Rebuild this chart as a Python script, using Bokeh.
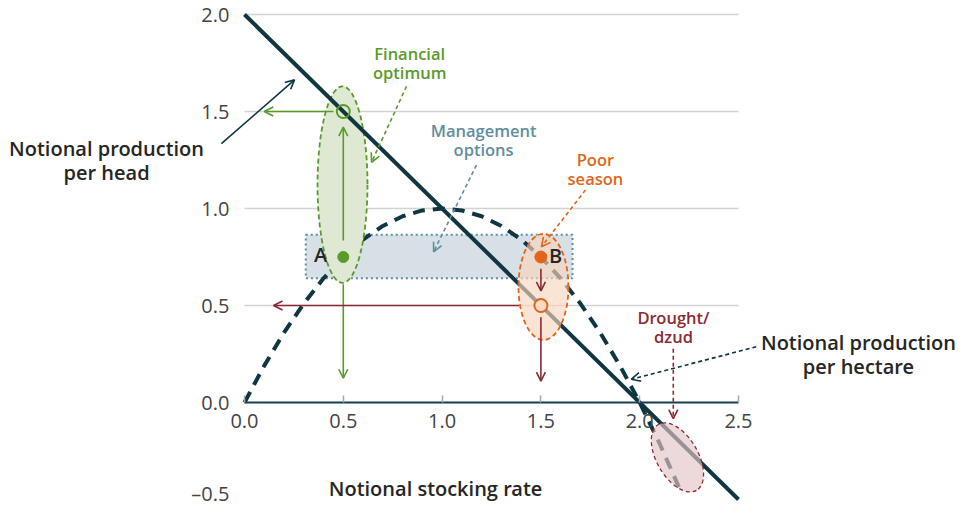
from bokeh.plotting import figure
from bokeh.models import LinearAxis, FixedTicker, Arrow, OpenHead, Range1d, Grid
from bokeh.core.properties import value
from bokeh.embed import file_html
from bokeh.resources import INLINE

# ---------------- data ----------------
head_x = [0.0, 2.5]                      # notional stocking rate
head_y = [2.0, -0.5]                     # notional production per head
hect_x = [0.0, 0.1, 0.2, 0.3, 0.4, 0.5, 0.6, 0.7, 0.8, 0.9, 1.0, 1.1,
          1.2, 1.3, 1.4, 1.5, 1.6, 1.7, 1.8, 1.9, 2.0, 2.1, 2.2]
hect_y = [0.0, 0.19, 0.36, 0.51, 0.64, 0.75, 0.84, 0.91, 0.96, 0.99, 1.0, 0.99,
          0.96, 0.91, 0.84, 0.75, 0.64, 0.51, 0.36, 0.19, 0.0, -0.21, -0.44]
x_ticks = [0.0, 0.5, 1.0, 1.5, 2.0, 2.5]
x_tick_labels = ["0.0", "0.5", "1.0", "1.5", "2.0", "2.5"]
y_ticks = [-0.5, 0.0, 0.5, 1.0, 1.5, 2.0]
y_tick_labels = ["\u20130.5", "0.0", "0.5", "1.0", "1.5", "2.0"]
grid_levels = [0.5, 1.0, 1.5, 2.0]
point_a = [0.5, 0.75]
point_a_opt = [0.5, 1.5]
point_b = [1.5, 0.75]
point_b_res = [1.5, 0.5]
mgmt_x = [0.31, 1.66]
mgmt_y = [0.64, 0.865]

DARK = "#0f3641"
GREEN = "#5a9a2a"
ORANGE = "#e0651a"
RED = "#8b2a33"
TEAL = "#5f8e9e"
FONT_SB = value("Open Sans SemiBold")

p = figure(width=960, height=506,
           x_range=Range1d(-1.2348, 3.6235), y_range=Range1d(-0.5361, 2.0722),
           output_backend="svg", toolbar_location=None, min_border=0,
           x_axis_location=None, y_axis_location=None, outline_line_color=None)
for g in p.grid:
    g.visible = False

p.add_layout(Grid(dimension=1, ticker=FixedTicker(ticks=grid_levels), cross_bounds=(0, 2.5),
                  grid_line_color="#d2d2d2", grid_line_width=1.5))

xaxis = LinearAxis(fixed_location=0, ticker=FixedTicker(ticks=x_ticks),
                   major_label_overrides=dict(zip(x_ticks, x_tick_labels)),
                   bounds=(0, 2.5), axis_line_color="#16404d", axis_line_width=2,
                   major_tick_in=7, major_tick_out=0, major_tick_line_color="#a8a8a8",
                   major_tick_line_width=1.5, minor_tick_line_color=None,
                   major_label_standoff=12, major_label_text_font_size="20px",
                   major_label_text_color="#444444", major_label_text_font="Open Sans")
p.add_layout(xaxis, "below")
yaxis = LinearAxis(fixed_location=0, ticker=FixedTicker(ticks=y_ticks),
                   major_label_overrides=dict(zip(y_ticks, y_tick_labels)),
                   axis_line_color=None, major_tick_line_color=None, major_tick_in=0,
                   major_tick_out=0, minor_tick_line_color=None,
                   major_label_standoff=15, major_label_text_font_size="20px",
                   major_label_text_color="#444444", major_label_text_font="Open Sans")
p.add_layout(yaxis, "left")

# management options box
p.quad(left=[mgmt_x[0]], right=[mgmt_x[1]], bottom=[mgmt_y[0]], top=[mgmt_y[1]],
       fill_color="#d6e0e6", line_color=TEAL, line_dash="2 3", line_width=2)

# production per hectare (dashed)
p.line(hect_x, hect_y, line_color=DARK, line_width=4, line_dash="12 8")

# financial optimum ellipse (covers dashed curve)
p.ellipse(x=[0.496], y=[1.123], width=[0.253], height=[1.013],
          fill_color="#dfe8d3", line_color=GREEN, line_dash="5 3", line_width=1.8)

# production per head
p.line(head_x, head_y, line_color=DARK, line_width=4)

# poor season ellipse and drought ellipse (semi-transparent over lines)
p.ellipse(x=[1.513], y=[0.596], width=[0.253], height=[0.547],
          fill_color="#f8d6bf", fill_alpha=0.65, line_color=ORANGE, line_dash="5 3",
          line_width=1.8)
p.ellipse(x=[2.191], y=[-0.283], width=[0.385], height=[0.213], angle=[-1.047],
          fill_color="#e4c4c5", fill_alpha=0.65, line_color=RED, line_dash="4 3",
          line_width=1.3)

# points
p.scatter([point_a[0]], [point_a[1]], size=11, fill_color=GREEN, line_color=GREEN)
p.scatter([point_a_opt[0]], [point_a_opt[1]], size=13, fill_alpha=0, line_color=GREEN,
          line_width=2)
p.scatter([point_b[0]], [point_b[1]], size=12, fill_color=ORANGE, line_color=ORANGE)
p.scatter([point_b_res[0]], [point_b_res[1]], size=13, fill_color="#fbd9c2",
          line_color=ORANGE, line_width=2)

# arrows
def arrow(x0, y0, x1, y1, color, dash="solid", width=1.6, size=9):
    p.add_layout(Arrow(end=OpenHead(size=size, line_color=color, line_width=width),
                       x_start=x0, y_start=y0, x_end=x1, y_end=y1,
                       line_color=color, line_width=width, line_dash=dash))

arrow(0.5, 0.835, 0.5, 1.42, GREEN)
arrow(0.45, 1.5, 0.1, 1.5, GREEN)
arrow(0.5, 0.61, 0.5, 0.125, GREEN)
arrow(1.5, 0.69, 1.5, 0.575, RED)
arrow(1.5, 0.44, 1.5, 0.11, RED)
arrow(1.39, 0.5, 0.147, 0.5, RED)
arrow(0.82, 1.63, 0.643, 1.238, GREEN, "4 3")
arrow(1.174, 1.224, 0.957, 0.777, TEAL, "4 3")
arrow(1.726, 1.096, 1.503, 0.803, ORANGE, "4 3")
arrow(2.17, 0.277, 2.17, -0.083, RED, "4 3")
arrow(2.59, 0.287, 1.958, 0.12, DARK, "4 3")
arrow(-0.117, 1.334, 0.253, 1.663, DARK)

# texts
def label(x, y, txt, color, size, lh):
    p.text(x=[x], y=[y], text=[txt], text_font=FONT_SB,
           text_font_size=size, text_color=color, text_align="center",
           text_baseline="middle", text_line_height=lh)

label(-0.698, 1.247, "Notional production\nper head", "#262626", "20px", 0.9)
label(3.107, 0.249, "Notional production\nper hectare", "#262626", "20px", 0.9)
label(0.967, -0.445, "Notional stocking rate", "#262626", "20px", 0.9)
label(0.836, 1.749, "Financial\noptimum", GREEN, "16.5px", 0.82)
label(1.21, 1.355, "Management\noptions", TEAL, "16.5px", 0.82)
label(1.776, 1.205, "Poor\nseason", ORANGE, "16.5px", 0.82)
label(2.171, 0.388, "Drought/\ndzud", RED, "16.5px", 0.82)
label(0.385, 0.762, "A", "#262626", "20px", 0.9)
label(1.574, 0.758, "B", "#262626", "20px", 0.9)

open("out.html", "w").write(file_html(p, INLINE))
